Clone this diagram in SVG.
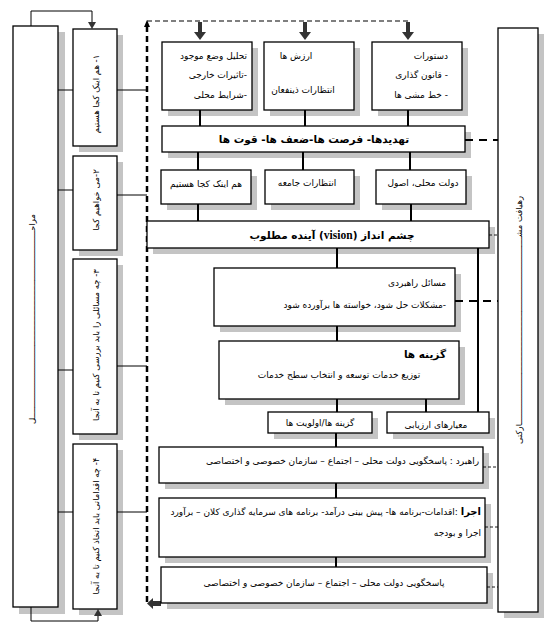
<svg xmlns="http://www.w3.org/2000/svg" width="557" height="630" viewBox="0 0 557 630">
<style>
.bx{fill:#fff;stroke:#000;stroke-width:1.3}
.sh{fill:#c4c4c4}
.t{font-family:"DejaVu Sans",sans-serif;font-size:9px;fill:#000}
.tb{font-family:"DejaVu Sans",sans-serif;font-size:10.5px;font-weight:bold;fill:#000}
.tv{font-family:"DejaVu Sans",sans-serif;font-size:8.5px;fill:#000}
.ln{stroke:#000;stroke-width:2;fill:none}
.thin{stroke:#000;stroke-width:1;fill:none}
.dk{stroke:#000;stroke-width:2;stroke-dasharray:8 6;fill:none}
.dt{stroke:#000;stroke-width:0.9;stroke-dasharray:3 2;fill:none}
.ar{fill:#333}
</style>
<rect width="557" height="630" fill="#fff"/>

<!-- shadows -->
<g id="shadows">
<rect class="sh" x="19" y="32" width="46" height="582"/>
<rect class="sh" x="79" y="35" width="44" height="117"/>
<rect class="sh" x="79" y="162" width="44" height="94"/>
<rect class="sh" x="79" y="265" width="44" height="175"/>
<rect class="sh" x="79" y="450" width="44" height="165"/>
<rect class="sh" x="504" y="34" width="40" height="584"/>
<rect class="sh" x="168" y="48" width="90" height="68"/>
<rect class="sh" x="270" y="48" width="90" height="68"/>
<rect class="sh" x="378" y="48" width="90" height="68"/>
<rect class="sh" x="168" y="132" width="303" height="26"/>
<rect class="sh" x="167" y="176" width="90" height="34"/>
<rect class="sh" x="271" y="176" width="89" height="34"/>
<rect class="sh" x="382" y="176" width="90" height="34"/>
<rect class="sh" x="153" y="227" width="342" height="27"/>
<rect class="sh" x="220" y="274" width="241" height="58"/>
<rect class="sh" x="225" y="347" width="240" height="58"/>
<rect class="sh" x="274" y="418" width="104" height="21"/>
<rect class="sh" x="393" y="418" width="102" height="21"/>
<rect class="sh" x="165" y="453" width="324" height="36"/>
<rect class="sh" x="165" y="504" width="326" height="59"/>
<rect class="sh" x="167" y="573" width="326" height="36"/>
</g>

<!-- connectors -->
<g id="connectors">
<!-- left column -->
<polyline class="thin" points="31,26 31,11 92,11 92,23"/>
<polygon class="ar" points="88,22 96,22 92,29"/>
<polyline class="thin" points="31,607 31,621 98,621 98,615"/>
<polygon class="ar" points="94,616 102,616 98,609"/>
<line class="thin" x1="58" y1="90" x2="73" y2="90"/>
<line class="thin" x1="58" y1="190" x2="73" y2="190"/>
<line class="thin" x1="58" y1="370" x2="73" y2="370"/>
<line class="thin" x1="58" y1="512" x2="73" y2="512"/>
<line class="thin" x1="117" y1="90" x2="147" y2="90"/>
<line class="thin" x1="117" y1="195" x2="147" y2="195"/>
<line class="thin" x1="117" y1="366" x2="147" y2="366"/>
<line class="thin" x1="117" y1="512" x2="147" y2="512"/>
<!-- feedback dashed loop -->
<line x1="147" y1="26" x2="147" y2="603" stroke="#000" stroke-width="2.5" stroke-dasharray="6 4"/>
<polygon fill="#000" points="147,20 144,27 150,27"/>
<line x1="147" y1="21" x2="408" y2="21" stroke="#000" stroke-width="1.2" stroke-dasharray="5 3"/>
<polygon class="ar" points="198,22 202,22 202,32 206,32 200,40 194,32 198,32"/>
<polygon class="ar" points="303,22 307,22 307,32 311,32 305,40 299,32 303,32"/>
<polygon class="ar" points="406,22 410,22 410,32 414,32 408,40 402,32 406,32"/>
<polygon class="ar" points="161,601 153,601 153,598 147,603.5 153,609 153,606 161,606"/>
<!-- main flow -->
<line class="ln" x1="200" y1="110" x2="200" y2="126"/>
<line class="ln" x1="305" y1="110" x2="305" y2="126"/>
<line class="ln" x1="408" y1="110" x2="408" y2="126"/>
<line class="ln" x1="198" y1="152" x2="198" y2="170"/>
<line class="ln" x1="303" y1="152" x2="303" y2="170"/>
<line class="ln" x1="410" y1="152" x2="410" y2="170"/>
<line class="ln" x1="198" y1="204" x2="198" y2="221"/>
<line class="ln" x1="411" y1="204" x2="411" y2="221"/>
<line class="ln" x1="337" y1="248" x2="337" y2="268"/>
<line class="ln" x1="478" y1="248" x2="478" y2="412"/>
<line class="ln" x1="337" y1="326" x2="337" y2="341"/>
<line class="ln" x1="337" y1="399" x2="337" y2="412"/>
<line class="ln" x1="426" y1="399" x2="426" y2="412"/>
<line class="ln" x1="336" y1="433" x2="336" y2="447"/>
<line class="ln" x1="336" y1="483" x2="336" y2="498"/>
<line class="ln" x1="336" y1="557" x2="336" y2="567"/>
<!-- links to right box -->
<line class="dk" x1="465" y1="140" x2="498" y2="140"/>
<line class="dt" x1="489" y1="235" x2="498" y2="235"/>
<line class="dk" x1="455" y1="301" x2="498" y2="301"/>
<line class="dt" x1="483" y1="467" x2="498" y2="467"/>
<line class="dt" x1="485" y1="527" x2="498" y2="527"/>
<line class="dt" x1="487" y1="587" x2="498" y2="587"/>
</g>

<g id="stages">
<rect class="bx" x="13" y="26" width="45" height="581"/>
<text class="tv" font-size="10" transform="translate(35,319) rotate(-90)" text-anchor="middle" direction="rtl">مراحـــــــــــــــــــــــــــــــــــــــــــــــــــــــــــــــــــــــــــل</text>
</g>
<g id="q1"><rect class="bx" x="73" y="29" width="44" height="117"/>
<text class="tv" transform="translate(99,94) rotate(-90)" text-anchor="middle" direction="rtl">۱- هم اینک کجا هستیم</text></g>
<g id="q2"><rect class="bx" x="73" y="156" width="44" height="94"/>
<text class="tv" transform="translate(99,200) rotate(-90)" text-anchor="middle" direction="rtl">۲-می خواهیم کجا</text></g>
<g id="q3"><rect class="bx" x="73" y="259" width="44" height="175"/>
<text class="tv" transform="translate(99,345) rotate(-90)" text-anchor="middle" direction="rtl">۳- چه مسائلی را باید بررسی کنیم تا به آنجا</text></g>
<g id="q4"><rect class="bx" x="73" y="444" width="44" height="165"/>
<text class="tv" transform="translate(99,526) rotate(-90)" text-anchor="middle" direction="rtl">۴- چه اقداماتی باید اتخاذ کنیم تا به آنجا</text></g>

<g id="approach"><rect class="bx" x="498" y="28" width="40" height="584"/>
<text class="tv" font-size="10" transform="translate(522,320) rotate(-90)" text-anchor="middle" direction="rtl">رهیافت مشـــــــــــــــــــــــــــــــــــــــــــــــــــــــــــــــــــــــــــارکتی</text></g>

<g id="analysis"><rect class="bx" x="162" y="42" width="90" height="68"/>
<text class="t" x="247" y="59" direction="rtl" text-anchor="start">تحلیل وضع موجود</text>
<text class="t" x="247" y="78" direction="rtl" text-anchor="start">-تاثیرات خارجی</text>
<text class="t" x="247" y="98" direction="rtl" text-anchor="start">-شرایط محلی</text></g>
<g id="values"><rect class="bx" x="264" y="42" width="90" height="68"/>
<text class="t" x="296" y="59" direction="rtl" text-anchor="middle">ارزش ها</text>
<text class="t" x="303" y="93" direction="rtl" text-anchor="middle">انتظارات ذینفعان</text></g>
<g id="mandates"><rect class="bx" x="372" y="42" width="90" height="68"/>
<text class="t" x="448" y="59" direction="rtl" text-anchor="start">دستورات</text>
<text class="t" x="448" y="78" direction="rtl" text-anchor="start">- قانون گذاری</text>
<text class="t" x="448" y="98" direction="rtl" text-anchor="start">- خط مشی ها</text></g>

<g id="swot"><rect class="bx" x="162" y="126" width="303" height="26"/>
<text class="tb" x="314" y="143" direction="rtl" text-anchor="middle">تهدیدها- فرصت ها-ضعف ها- قوت ها</text></g>

<g id="now"><rect class="bx" x="161" y="170" width="90" height="34"/>
<text class="t" x="206" y="187" direction="rtl" text-anchor="middle">هم اینک کجا هستیم</text></g>
<g id="expect"><rect class="bx" x="265" y="170" width="89" height="34"/>
<text class="t" x="307" y="186" direction="rtl" text-anchor="middle">انتظارات جامعه</text></g>
<g id="gov"><rect class="bx" x="376" y="170" width="90" height="34"/>
<text class="t" x="423" y="186" direction="rtl" text-anchor="middle">دولت محلی، اصول</text></g>

<g id="vision"><rect class="bx" x="147" y="221" width="342" height="27"/>
<text class="tb" x="332" y="239" direction="rtl" text-anchor="middle">چشم انداز (<tspan font-family="Liberation Serif,serif" font-size="11.5">vision</tspan>) آینده مطلوب</text></g>

<g id="issues"><rect class="bx" x="214" y="268" width="241" height="58"/>
<text class="t" x="446" y="286" direction="rtl" text-anchor="start">مسائل راهبردی</text>
<text class="t" x="446" y="308" direction="rtl" text-anchor="start">-مشکلات حل شود، خواسته ها برآورده شود</text></g>

<g id="options"><rect class="bx" x="219" y="341" width="240" height="58"/>
<text class="tb" font-size="10" x="446" y="358" direction="rtl" text-anchor="start">گزینه ها</text>
<text class="t" x="339" y="378" direction="rtl" text-anchor="middle">توزیع خدمات توسعه و انتخاب سطح خدمات</text></g>

<g id="priorities"><rect class="bx" x="268" y="412" width="104" height="21"/>
<text class="t" font-size="7.5" x="320" y="426" direction="rtl" text-anchor="middle">گزینه ها/اولویت ها</text></g>
<g id="criteria"><rect class="bx" x="387" y="412" width="102" height="21"/>
<text class="t" font-size="7.5" x="436" y="428" direction="rtl" text-anchor="middle">معیارهای ارزیابی</text></g>

<g id="strategy"><rect class="bx" x="159" y="447" width="324" height="36"/>
<text class="t" x="479" y="464" direction="rtl" text-anchor="start">راهبرد :  پاسخگویی دولت محلی – اجتماع – سازمان خصوصی و اختصاصی</text></g>

<g id="implement"><rect class="bx" x="159" y="498" width="326" height="59"/>
<text class="t" x="481" y="515" direction="rtl" text-anchor="start"><tspan font-weight="bold" font-size="10">اجرا</tspan> :اقدامات-برنامه ها- پیش بینی درآمد- برنامه های سرمایه گذاری کلان – برآورد</text>
<text class="t" x="481" y="536" direction="rtl" text-anchor="start">اجرا و بودجه</text></g>

<g id="accountability"><rect class="bx" x="161" y="567" width="326" height="36"/>
<text class="t" x="324" y="586" direction="rtl" text-anchor="middle">پاسخگویی دولت محلی – اجتماع – سازمان خصوصی و اختصاصی</text></g>
</svg>
